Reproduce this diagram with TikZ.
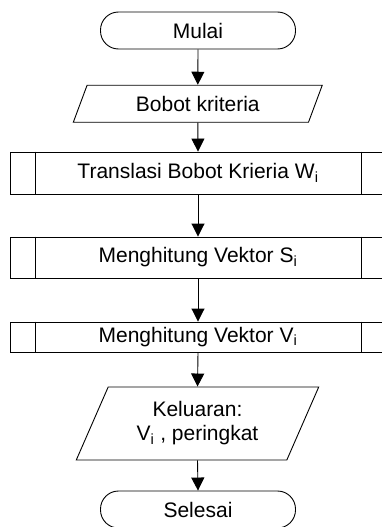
\documentclass[tikz,border=0pt]{standalone}
\usepackage{fontspec}
\setmainfont{Liberation Sans}
\usetikzlibrary{arrows.meta,shapes.geometric}

\begin{document}
\begin{tikzpicture}[x=1pt,y=-1pt,
  every node/.style={font=\fontsize{21}{24}\selectfont, inner sep=0pt, line width=0.9pt},
  terminal/.style={draw, rectangle, rounded corners=18pt, minimum width=195pt, minimum height=37pt},
  io/.style={draw, trapezium, trapezium left angle=63.5, trapezium right angle=116.5,
             trapezium stretches=true, align=center},
  procbox/.style={draw, rectangle, minimum width=375pt},
  flow/.style={-{Triangle[length=13pt,width=13pt]}, line width=0.9pt}]

\useasboundingbox (0,0) rectangle (382,527);
\clip (0,0) rectangle (382,527);

% terminals, input/output and predefined-process boxes
\node[terminal] (mulai) at (198,30.5) {Mulai};
\node[io, minimum width=249pt, minimum height=37pt] (bobot) at (197.8,103.7) {Bobot kriteria};
\node[procbox, minimum height=42pt] (trans) at (198,173) {Translasi Bobot Krieria W\textsubscript{i}};
\node[procbox, minimum height=41pt] (vs) at (198,257.5) {Menghitung Vektor S\textsubscript{i}};
\node[procbox, minimum height=30pt] (vv) at (198,337) {Menghitung Vektor V\textsubscript{i}};
\node[io, minimum width=243pt, minimum height=73pt] (out) at (197.5,423.5) {Keluaran:\\V\textsubscript{i} , peringkat};
\node[terminal] (selesai) at (198,509.5) {Selesai};

% inner side bars of the predefined-process boxes
\foreach \b in {trans,vs,vv}{
  \draw[line width=0.9pt] ([xshift=25pt]\b.north west) -- ([xshift=25pt]\b.south west);
  \draw[line width=0.9pt] ([xshift=-25pt]\b.north east) -- ([xshift=-25pt]\b.south east);
}

% flow lines
\draw[flow] (mulai.south) -- (bobot.north);
\draw[flow] (bobot.south) -- (trans.north);
\draw[flow] (trans.south) -- (vs.north);
\draw[flow] (vs.south) -- (vv.north);
\draw[flow] (vv.south) -- (out.north);
\draw[flow] (out.south) -- (selesai.north);
\end{tikzpicture}
\end{document}
